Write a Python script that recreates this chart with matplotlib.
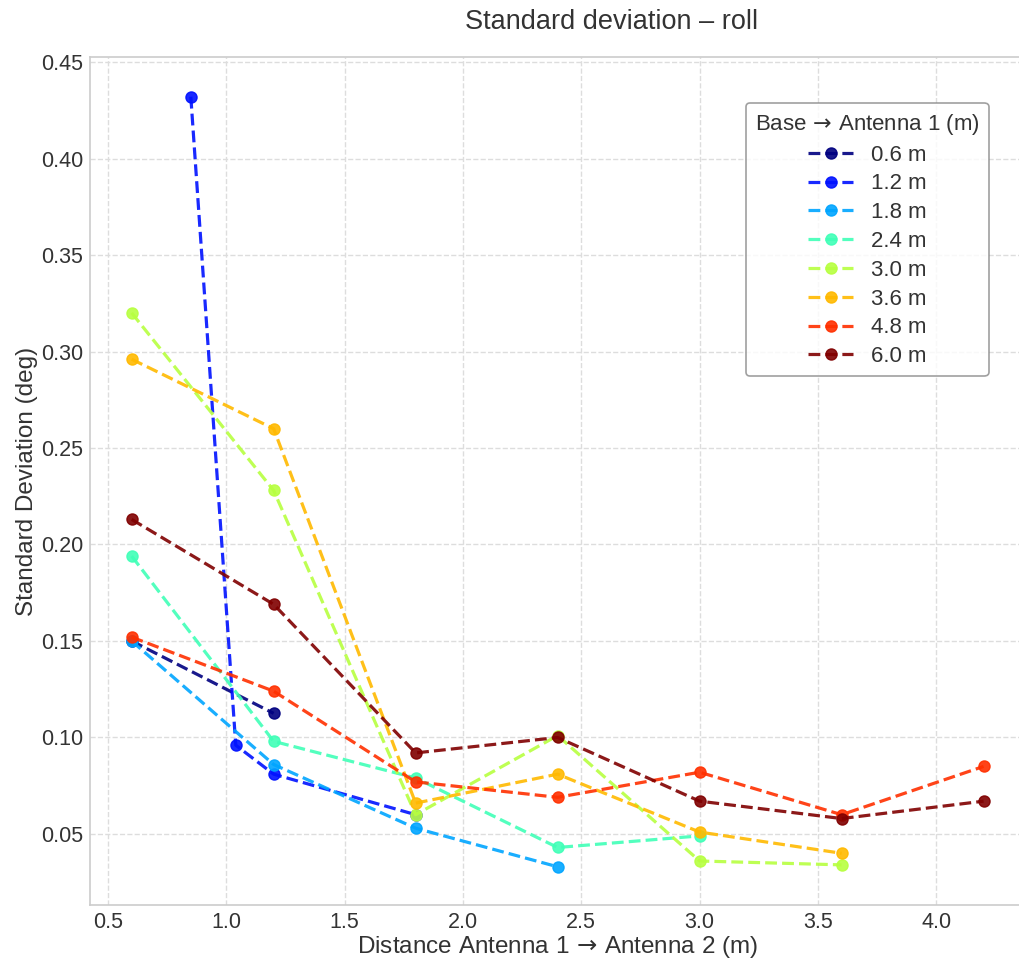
import matplotlib
matplotlib.use("Agg")
import matplotlib.pyplot as plt
import numpy as np

plt.rcParams['font.family'] = ['Liberation Sans', 'DejaVu Sans']
plt.rcParams['mathtext.fontset'] = 'dejavusans'

labels = ["0.6 m", "1.2 m", "1.8 m", "2.4 m", "3.0 m", "3.6 m", "4.8 m", "6.0 m"]

x_06 = [0.6, 1.2]
y_06 = [0.150, 0.1125]
x_12 = [0.85, 1.04, 1.2, 1.8]
y_12 = [0.432, 0.096, 0.081, 0.060]
x_18 = [0.6, 1.2, 1.8, 2.4]
y_18 = [0.150, 0.086, 0.053, 0.033]
x_24 = [0.6, 1.2, 1.8, 2.4, 3.0]
y_24 = [0.194, 0.098, 0.079, 0.043, 0.049]
x_30 = [0.6, 1.2, 1.8, 2.4, 3.0, 3.6]
y_30 = [0.320, 0.228, 0.060, 0.101, 0.036, 0.034]
x_36 = [0.6, 1.2, 1.8, 2.4, 3.0, 3.6]
y_36 = [0.296, 0.260, 0.066, 0.081, 0.051, 0.040]
x_48 = [0.6, 1.2, 1.8, 2.4, 3.0, 3.6, 4.2]
y_48 = [0.152, 0.124, 0.077, 0.069, 0.082, 0.060, 0.085]
x_60 = [0.6, 1.2, 1.8, 2.4, 3.0, 3.6, 4.2]
y_60 = [0.213, 0.169, 0.092, 0.100, 0.067, 0.058, 0.067]

xs = [x_06, x_12, x_18, x_24, x_30, x_36, x_48, x_60]
ys = [y_06, y_12, y_18, y_24, y_30, y_36, y_48, y_60]

fig = plt.figure(figsize=(10.19, 9.65), dpi=100)
ax = fig.add_axes([90/1019, 1 - 905/965, (1025 - 90)/1019, (905 - 57)/965])

colors = plt.cm.jet(np.linspace(0, 1, len(labels)))
for xv, yv, c, lab in zip(xs, ys, colors, labels):
    ax.plot(xv, yv, linestyle='--', marker='o', color=c, lw=2.3, markersize=8,
            alpha=0.9, label=lab)

ax.set_ylim(0.0132, 0.4526)
ax.set_xlim(0.424, 4.375)
ax.set_xticks([0.5, 1.0, 1.5, 2.0, 2.5, 3.0, 3.5, 4.0])
ax.set_yticks([0.05, 0.10, 0.15, 0.20, 0.25, 0.30, 0.35, 0.40, 0.45])
ax.grid(True, linestyle='--', color='#dddddd', lw=1)
ax.set_axisbelow(True)
for s in ax.spines.values():
    s.set_color('#cccccc')
    s.set_linewidth(1.2)
ax.tick_params(length=0, labelsize=15.5, colors='#333333', pad=5)
ax.set_xlabel("Distance Antenna 1 $\\!\\rightarrow\\!$ Antenna 2 (m)", fontsize=17.5, color='#333333', labelpad=1)
ax.set_ylabel("Standard Deviation (deg)", fontsize=17.5, color='#333333', labelpad=2)
fig.text(612/1019, 1 - 22/965, "Standard deviation \u2013 roll", fontsize=19.5, color='#333333',
         ha='center', va='center')

leg = ax.legend(title="Base $\\!\\rightarrow\\!$ Antenna 1 (m)", fontsize=16, title_fontsize=16,
                loc='upper left', bbox_to_anchor=((746-90)/935, 1 - (103-57)/848),
                borderaxespad=0,
                frameon=True, edgecolor='#888888', fancybox=True, borderpad=0.4,
                handlelength=2.0, handletextpad=0.8, labelspacing=0.35)
leg.get_frame().set_linewidth(1.2)
for t in leg.get_texts():
    t.set_color('#333333')
leg.get_title().set_color('#333333')

fig.savefig("out.png", dpi=100)
